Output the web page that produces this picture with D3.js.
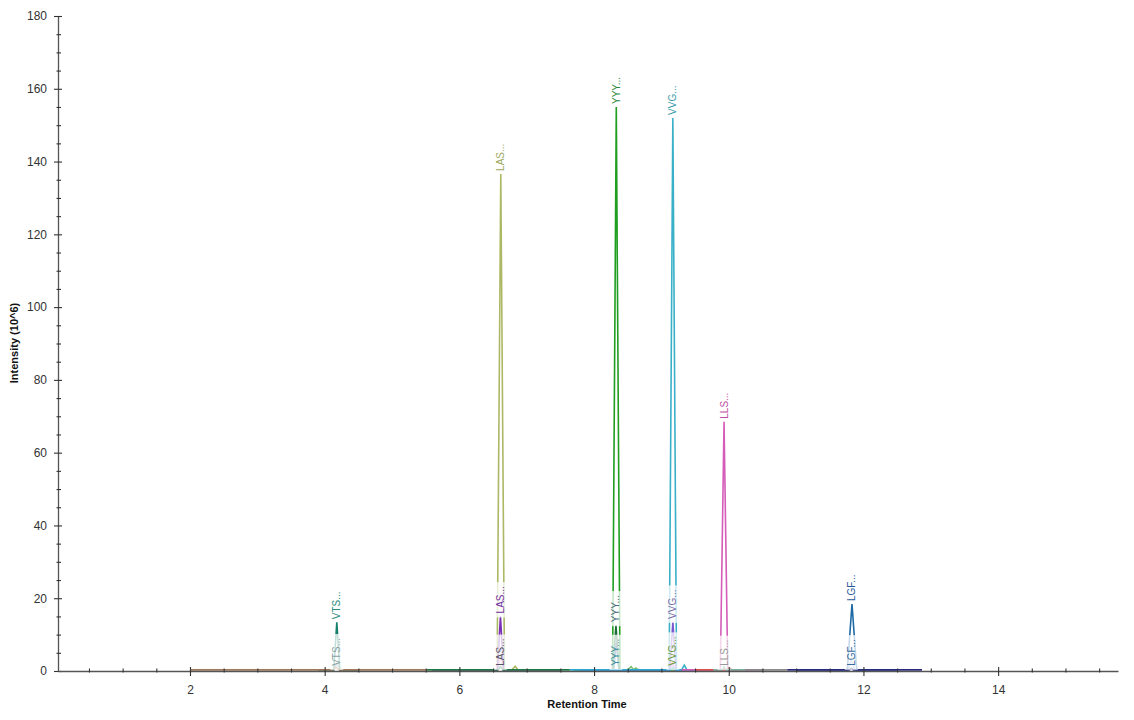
<!DOCTYPE html>
<html>
<head>
<meta charset="utf-8">
<script src="https://cdn.jsdelivr.net/npm/d3@7"></script>
<style>
  html, body { margin: 0; padding: 0; background: #fff; }
  svg { display: block; font-family: "Liberation Sans", Arial, sans-serif; }
</style>
</head>
<body>
<svg id="chart" width="1134" height="720"></svg>
<script>
// ---- tick labels ----
const yTicks = [0, 20, 40, 60, 80, 100, 120, 140, 160, 180];
const yMinorTicks = d3.range(0, 181, 5).filter(v => v % 20 !== 0);
const xTicks = [2, 4, 6, 8, 10, 12, 14];
const xMinorTicks = [0.5, 1, 1.5, 2.5, 3, 3.5, 4.5, 5, 5.5, 6.5, 7, 7.5, 8.5, 9, 9.5, 10.5, 11, 11.5, 12.5, 13, 13.5, 14.5, 15, 15.5];

// ---- peptide groups ----
const groupNames = ["VTS...", "LAS...", "YYY...", "VVG...", "LLS...", "LGF..."];

// ---- transition traces: [retention time, intensity (10^6)] ----
const tracesVTS = [
  { color: "#9aa3a3", pts: [[3.9,0.3],[4.13,0.3],[4.18,2.0],[4.23,0.3],[4.5,0.3]] },
  { color: "#15806c", pts: [[3.9,0.3],[4.135,0.3],[4.18,13.4],[4.225,0.3],[4.5,0.3]] },
  { color: "#a0785a", pts: [[2.0,0.3],[4.12,0.3],[4.17,1.0],[4.22,0.3],[5.52,0.3]] }
];
const tracesLAS = [
  { color: "#adb865", pts: [[5.6,0.3],[6.56,0.3],[6.615,136.6],[6.67,0.3],[6.78,0.3],[6.83,1.3],[6.87,0.3],[7.5,0.3]] },
  { color: "#e2a6d8", pts: [[5.6,0.3],[6.56,0.3],[6.61,3.5],[6.66,0.3],[7.5,0.3]] },
  { color: "#7a2fb5", pts: [[5.6,0.3],[6.565,0.3],[6.61,15.0],[6.655,0.3],[7.5,0.3]] },
  { color: "#1f7a45", pts: [[5.52,0.3],[6.57,0.3],[6.61,1.2],[6.65,0.3],[7.64,0.3]] }
];
const tracesYYY = [
  { color: "#1f9e1f", pts: [[7.7,0.3],[8.275,0.3],[8.33,155.0],[8.385,0.3],[9.2,0.3]] },
  { color: "#2a5aa8", pts: [[7.7,0.3],[8.29,0.3],[8.33,8.0],[8.37,0.3],[9.2,0.3]] },
  { color: "#1e6b3a", pts: [[7.7,0.3],[8.28,0.3],[8.325,12.6],[8.37,0.3],[9.2,0.3]] },
  { color: "#7ac070", pts: [[7.7,0.3],[8.5,0.3],[8.55,1.2],[8.59,0.3],[8.62,0.8],[8.66,0.3],[9.2,0.3]] }
];
const tracesVVG = [
  { color: "#3ab0c8", pts: [[7.8,0.3],[9.115,0.3],[9.17,152.0],[9.225,0.3],[9.3,0.3],[9.34,1.6],[9.38,0.3],[9.77,0.3]] },
  { color: "#e060a0", pts: [[7.8,0.3],[9.12,0.3],[9.16,2.2],[9.2,0.3],[9.77,0.3]] },
  { color: "#7a5ad0", pts: [[7.8,0.3],[9.125,0.3],[9.17,13.5],[9.215,0.3],[9.77,0.3]] },
  { color: "#2aa8d0", pts: [[7.64,0.3],[9.13,0.3],[9.17,1.0],[9.21,0.3],[9.77,0.3]] }
];
const tracesLLS = [
  { color: "#d55cb8", pts: [[9.3,0.3],[9.875,0.3],[9.93,68.5],[9.985,0.3],[10.5,0.3]] },
  { color: "#e05050", pts: [[9.5,0.3],[9.96,0.3],[10.0,1.0],[10.04,0.3],[10.2,0.3]] },
  { color: "#7ab0a0", pts: [[9.77,0.3],[9.9,0.3],[9.93,1.2],[9.96,0.3],[10.24,0.3]] },
  { color: "#8a8a8a", pts: [[10.24,0.3],[10.87,0.3]] }
];
const tracesLGF = [
  { color: "#90b0d0", pts: [[11.0,0.3],[11.77,0.3],[11.82,3.0],[11.87,0.3],[12.5,0.3]] },
  { color: "#1f6aa5", pts: [[11.0,0.3],[11.76,0.3],[11.83,18.4],[11.9,0.3],[12.5,0.3]] },
  { color: "#2a2a80", pts: [[10.87,0.3],[11.79,0.3],[11.82,0.8],[11.85,0.3],[12.87,0.3]] }
];
const traceGroups = [tracesVTS, tracesLAS, tracesYYY, tracesVVG, tracesLLS, tracesLGF];

// ---- peak annotations: group index, retention time, intensity, colour, white box ----
const labelGroup = [0, 0, 1, 1, 1, 2, 2, 2, 3, 3, 3, 4, 4, 5, 5];
const labelTime  = [4.18, 4.18, 6.615, 6.61, 6.61, 8.33, 8.325, 8.325, 9.17, 9.17, 9.17, 9.93, 9.93, 11.83, 11.82];
const labelValue = [13.4, 0.6, 136.6, 15.0, 0.6, 155.0, 12.6, 0.6, 152.0, 13.5, 0.6, 68.5, 0.6, 18.4, 0.6];
const labelColor = ["#2a8a7a", "#8aa0a0", "#a0a860", "#7030a0", "#555566", "#2a8a3a", "#4a6a7a", "#3a8aa0",
                    "#3a9aaa", "#7a6aa8", "#6a9a3a", "#c050a0", "#999999", "#2a5a9a", "#3a6aa0"];
const labelBox   = [false, true, false, true, true, false, true, true, false, true, true, false, true, false, true];

// ---- layout ----
const svg = d3.select("#chart");
const x = d3.scaleLinear().domain([0.04, 15.78]).range([58, 1118]);
const y = d3.scaleLinear().domain([0, 180]).range([671, 16]);

// traces
const line = d3.line().x(d => x(d[0])).y(d => y(d[1]));
const gTraces = svg.append("g");
traceGroups.forEach(group => {
  group.forEach(tr => {
    gTraces.append("path")
      .attr("d", line(tr.pts))
      .attr("fill", "none")
      .attr("stroke", tr.color)
      .attr("stroke-width", 1.6)
      .attr("stroke-linejoin", "miter");
  });
});

// labels
const gLabels = svg.append("g");
labelTime.forEach((t, i) => {
  const px = x(t), py = y(labelValue[i]) - 3;
  const g = gLabels.append("g").attr("transform", `translate(${px},${py}) rotate(-90)`);
  const txt = g.append("text")
    .attr("x", 0).attr("y", 0).attr("dy", "0.35em")
    .attr("font-size", 10)
    .attr("fill", labelColor[i])
    .text(groupNames[labelGroup[i]]);
  if (labelBox[i]) {
    const bb = txt.node().getBBox();
    g.insert("rect", "text")
      .attr("x", bb.x - 4).attr("y", bb.y - 1)
      .attr("width", bb.width + 8).attr("height", bb.height + 2)
      .attr("fill", "#ffffff").attr("fill-opacity", 0.75);
  }
});

// y axis
const yAxis = svg.append("g").attr("transform", "translate(58,0)")
  .call(d3.axisLeft(y).tickValues(yTicks).tickSizeOuter(0).tickSizeInner(4).tickPadding(7));
yAxis.selectAll(".tick line").attr("x1", -4).attr("x2", 4);
const yMinor = svg.append("g").attr("transform", "translate(58,0)")
  .call(d3.axisLeft(y).tickValues(yMinorTicks).tickFormat("").tickSizeOuter(0));
yMinor.select(".domain").remove();
yMinor.selectAll(".tick line").attr("x1", -1.5).attr("x2", 3);

// x axis
const xAxis = svg.append("g").attr("transform", "translate(0,671)")
  .call(d3.axisBottom(x).tickValues(xTicks).tickSizeOuter(0).tickSizeInner(5).tickPadding(9));
xAxis.selectAll(".tick line").attr("y1", -4).attr("y2", 5);
const xMinor = svg.append("g").attr("transform", "translate(0,671)")
  .call(d3.axisBottom(x).tickValues(xMinorTicks).tickFormat("").tickSizeOuter(0));
xMinor.select(".domain").remove();
xMinor.selectAll(".tick line").attr("y1", -2.5).attr("y2", 1.5);

[yAxis, xAxis].forEach(a => {
  a.select(".domain").attr("stroke", "#555").attr("stroke-width", 1.3);
  a.selectAll("text").attr("font-size", 12).attr("fill", "#333")
    .attr("font-family", "'Liberation Sans', Arial, sans-serif");
});
svg.selectAll(".tick line").attr("stroke", "#333").attr("stroke-width", 1.1);

// titles
svg.append("text")
  .attr("x", 587).attr("y", 708)
  .attr("text-anchor", "middle")
  .attr("font-size", 11).attr("font-weight", "bold").attr("fill", "#111")
  .text("Retention Time");
svg.append("text")
  .attr("transform", "translate(18,343) rotate(-90)")
  .attr("text-anchor", "middle")
  .attr("font-size", 11).attr("font-weight", "bold").attr("fill", "#111")
  .text("Intensity (10^6)");
</script>
</body>
</html>
